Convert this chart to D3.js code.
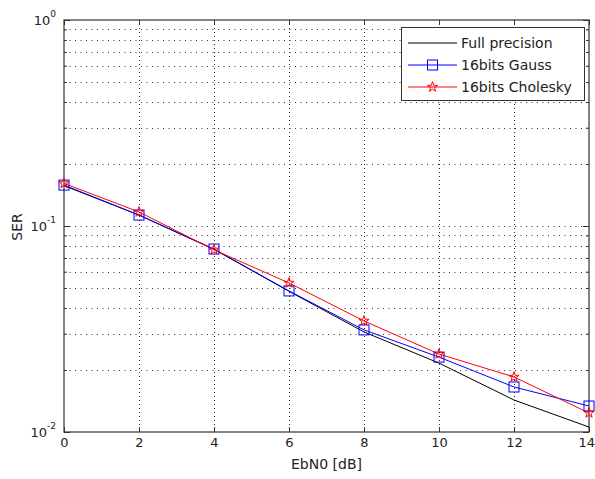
<!DOCTYPE html>
<html><head><meta charset="utf-8">
<script src="https://cdn.jsdelivr.net/npm/d3@7"></script>
<style>body{margin:0;background:#fff}svg{display:block}text{font-family:"DejaVu Sans",sans-serif;fill:#222}</style>
</head><body><svg id="c" width="595" height="479"></svg>
<script>
const ebn0 = [0, 2, 4, 6, 8, 10, 12, 14];
const fullPrecision = [0.157, 0.113, 0.0770, 0.0482, 0.0306, 0.0216, 0.0143, 0.01057];
const gauss16 = [0.158, 0.113, 0.0773, 0.0484, 0.0313, 0.0231, 0.01654, 0.01337];
const cholesky16 = [0.161, 0.117, 0.0766, 0.0529, 0.0346, 0.0239, 0.0185, 0.01237];
const xTicks = [0, 2, 4, 6, 8, 10, 12, 14];
const yMajor = [0.01, 0.1, 1];
const yLabels = ["-2", "-1", "0"];
const legendNames = ["Full precision", "16bits Gauss", "16bits Cholesky"];

const L = 64, R = 589, T = 20, B = 432;
const svg = d3.select("#c");
const x = d3.scaleLinear().domain([0, 14]).range([L, R]);
const y = d3.scaleLog().domain([0.01, 1]).range([B, T]);

const minor = [];
[0.01, 0.1].forEach(d => { for (let k = 2; k <= 9; k++) minor.push(d * k); });

// grid
const g = svg.append("g");
xTicks.slice(1, -1).forEach(v => g.append("line").attr("x1", Math.round(x(v)) + 0.5).attr("x2", Math.round(x(v)) + 0.5).attr("y1", T).attr("y2", B)
  .attr("stroke", "#333").attr("stroke-width", 1).attr("stroke-dasharray", "1,3"));
minor.concat([0.1]).forEach(v => g.append("line").attr("x1", L).attr("x2", R).attr("y1", Math.round(y(v)) + 0.5).attr("y2", Math.round(y(v)) + 0.5)
  .attr("stroke", "#333").attr("stroke-width", 1).attr("stroke-dasharray", "1,4.5"));

// axes with inward ticks on all sides
const axB = d3.axisBottom(x).tickValues(xTicks).tickSize(-5).tickFormat(d3.format("d"));
svg.append("g").attr("transform", `translate(0,${B})`).call(axB).call(s => {
  s.select(".domain").remove(); s.selectAll("line").attr("stroke", "#333");
  s.selectAll("text").attr("font-size", 13).attr("y", 15).attr("dy", 0).style("font-family", '"DejaVu Sans",sans-serif').attr("fill", "#222");
  s.selectAll("text").filter(d => d === 14).attr("text-anchor", "end").attr("x", 595 - R - 0.5);
});
svg.append("g").attr("transform", `translate(0,${T})`).call(d3.axisTop(x).tickValues(xTicks).tickSize(-5).tickFormat(""))
  .call(s => { s.select(".domain").remove(); s.selectAll("line").attr("stroke", "#333"); });
const yAll = yMajor.concat(minor);
svg.append("g").attr("transform", `translate(${L},0)`).call(d3.axisLeft(y).tickValues(yAll).tickSize(-5).tickFormat(""))
  .call(s => { s.select(".domain").remove(); s.selectAll("line").attr("stroke", "#333")
    .attr("x2", d => yMajor.includes(d) ? 6 : 3); });
svg.append("g").attr("transform", `translate(${R},0)`).call(d3.axisRight(y).tickValues(yAll).tickSize(-5).tickFormat(""))
  .call(s => { s.select(".domain").remove(); s.selectAll("line").attr("stroke", "#333")
    .attr("x2", d => yMajor.includes(d) ? -6 : -3); });

// y labels 10^n
yMajor.forEach((v, i) => {
  const t = svg.append("text").attr("x", L - 8).attr("y", y(v) + 5).attr("text-anchor", "end").attr("font-size", 13);
  t.append("tspan").text("10");
  t.append("tspan").attr("dy", -8).attr("font-size", 9).text(yLabels[i]);
});

// box
svg.append("rect").attr("x", L).attr("y", T).attr("width", R - L).attr("height", B - T)
  .attr("fill", "none").attr("stroke", "#333").attr("stroke-width", 1.2);

svg.append("text").attr("x", (L + R) / 2).attr("y", 469).attr("text-anchor", "middle").attr("font-size", 14).text("EbN0 [dB]");
svg.append("text").attr("transform", `translate(22,227) rotate(-90)`).attr("text-anchor", "middle").attr("font-size", 14).text("SER");

const line = d3.line().x((d, i) => x(ebn0[i])).y(d => y(d));
svg.append("path").datum(fullPrecision).attr("d", line).attr("fill", "none").attr("stroke", "#000").attr("stroke-width", 1);
svg.append("path").datum(gauss16).attr("d", line).attr("fill", "none").attr("stroke", "#0000ff").attr("stroke-width", 1);
svg.append("path").datum(cholesky16).attr("d", line).attr("fill", "none").attr("stroke", "#ff0000").attr("stroke-width", 1);

const star = d3.symbol().type(d3.symbolStar).size(32);
function squares(sel, cx, cy) { sel.append("rect").attr("x", cx - 5).attr("y", cy - 5).attr("width", 10).attr("height", 10)
  .attr("fill", "none").attr("stroke", "#0000ff").attr("stroke-width", 1); }
function stars(sel, cx, cy) { sel.append("path").attr("d", star()).attr("transform", `translate(${cx},${cy})`)
  .attr("fill", "none").attr("stroke", "#ff0000").attr("stroke-width", 1); }
gauss16.forEach((v, i) => squares(svg, x(ebn0[i]), y(v)));
cholesky16.forEach((v, i) => stars(svg, x(ebn0[i]), y(v)));

// legend
const lg = svg.append("g");
lg.append("rect").attr("x", 401.5).attr("y", 27.5).attr("width", 183).attr("height", 73).attr("fill", "#fff").attr("stroke", "#333").attr("stroke-width", 1);
const colors = ["#000", "#0000ff", "#ff0000"];
legendNames.forEach((n, i) => {
  const yy = 43 + i * 22;
  lg.append("line").attr("x1", 408).attr("x2", 457).attr("y1", yy).attr("y2", yy).attr("stroke", colors[i]).attr("stroke-width", 1);
  if (i === 1) squares(lg, 432.5, yy);
  if (i === 2) stars(lg, 432.5, yy);
  lg.append("text").attr("x", 461).attr("y", yy + 5).attr("font-size", 14).text(n);
});
</script></body></html>
